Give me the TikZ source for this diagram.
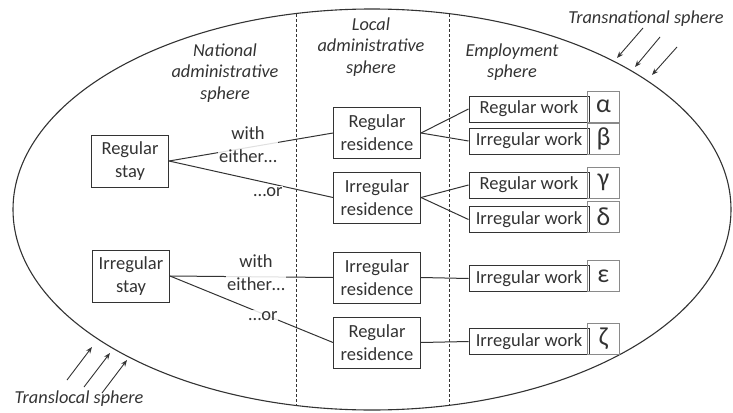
\documentclass[tikz,border=0pt]{standalone}
\usepackage{fontspec}
\setmainfont{Carlito}
\usetikzlibrary{arrows.meta}
\definecolor{ink}{HTML}{333333}
\definecolor{lightbox}{HTML}{8A8A8A}
\begin{document}
\begin{tikzpicture}[x=1pt,y=-1pt,
  every node/.style={font=\fontsize{18.5}{23}\selectfont, text=ink},
  box/.style={draw=ink, line width=1pt, align=center, inner sep=0pt},
  staybox/.style={box, minimum width=77pt, minimum height=52pt},
  resbox/.style={box, minimum width=87pt, minimum height=51pt},
  workbox/.style={box, minimum width=120pt, minimum height=26pt},
  greekbox/.style={draw=lightbox, line width=0.8pt, inner sep=0pt, minimum width=32pt, minimum height=31pt, font=\fontsize{26}{26}\selectfont, anchor=south west},
  sphere/.style={align=center, font=\fontsize{18.3}{21.5}\selectfont\itshape},
  conn/.style={draw=ink, line width=1pt},
  lab/.style={align=center, fill=white, fill opacity=0.85, text opacity=1, inner sep=1pt},
  infl/.style={draw=ink, line width=0.9pt, -{Stealth[length=6.5pt,width=5pt]}}
]
\useasboundingbox (0,0) rectangle (733,412);
% ellipse and dashed dividers
\draw[ink, line width=1.1pt] (372,209.5) ellipse [x radius=359pt, y radius=200.5pt];
\coordinate (d1t) at (296,14);
\coordinate (d1b) at (296,405);
\coordinate (d2t) at (449,14);
\coordinate (d2b) at (449,405);
\draw[ink, line width=0.8pt, dash pattern=on 3pt off 2pt] (d1t) -- (d1b);
\draw[ink, line width=0.8pt, dash pattern=on 3pt off 2pt] (d2t) -- (d2b);
% sphere titles
\node[sphere] (nat) at (225,73) {National\\administrative\\sphere};
\node[sphere] (loc) at (371,47) {Local\\administrative\\sphere};
\node[sphere] (emp) at (512,62) {Employment\\sphere};
\node[sphere] (trn) at (646,19) {Transnational sphere};
\node[sphere] (trl) at (79,399) {Translocal sphere};
% external influence arrows
\coordinate (tn1s) at (643,28); \coordinate (tn1e) at (617,58);
\coordinate (tn2s) at (660,37); \coordinate (tn2e) at (635,67);
\coordinate (tn3s) at (677,47); \coordinate (tn3e) at (652,75);
\draw[infl] (tn1s) -- (tn1e);
\draw[infl] (tn2s) -- (tn2e);
\draw[infl] (tn3s) -- (tn3e);
\coordinate (tl1s) at (67,380); \coordinate (tl1e) at (92,347);
\coordinate (tl2s) at (84,387); \coordinate (tl2e) at (110,353);
\coordinate (tl3s) at (102,393); \coordinate (tl3e) at (127,360);
\draw[infl] (tl1s) -- (tl1e);
\draw[infl] (tl2s) -- (tl2e);
\draw[infl] (tl3s) -- (tl3e);
% stays
\node[staybox] (s1) at (130,161) {Regular\\stay};
\node[staybox] (s2) at (131,276) {Irregular\\stay};
% residences
\node[resbox] (r1) at (377,133) {Regular\\residence};
\node[resbox] (r2) at (377,197.5) {Irregular\\residence};
\node[resbox] (r3) at (377,277.5) {Irregular\\residence};
\node[resbox] (r4) at (377,342.5) {Regular\\residence};
% work
\node[workbox] (wa) at (529,109) {Regular work};
\node[workbox] (wb) at (529,141) {Irregular work};
\node[workbox] (wc) at (529,185) {Regular work};
\node[workbox] (wd) at (529,219.5) {Irregular work};
\node[workbox] (we) at (529,278.5) {Irregular work};
\node[workbox] (wf) at (529,341.5) {Irregular work};
\node[greekbox] (ga) at ([xshift=-2.5pt]wa.south east) {α};
\node[greekbox] (gb) at ([xshift=-2.5pt]wb.south east) {β};
\node[greekbox] (gc) at ([xshift=-2.5pt]wc.south east) {γ};
\node[greekbox] (gd) at ([xshift=-2.5pt]wd.south east) {δ};
\node[greekbox] (ge) at ([xshift=-2.5pt]we.south east) {ε};
\node[greekbox] (gf) at ([xshift=-2.5pt]wf.south east) {ζ};
% connectors
\draw[conn] (s1.east) -- (r1.west);
\draw[conn] (s1.east) -- (r2.west);
\draw[conn] (s2.east) -- (r3.west);
\draw[conn] (s2.east) -- (r4.west);
\draw[conn] (r1.east) -- (wa.west);
\draw[conn] (r1.east) -- (wb.west);
\draw[conn] (r2.east) -- (wc.west);
\draw[conn] (r2.east) -- (wd.west);
\draw[conn] (r3.east) -- (we.west);
\draw[conn] (r4.east) -- (wf.west);
% connector labels
\node[lab] (l1) at (248,145) {with\\either…};
\node[lab] (l2) at (268,192) {…or};
\node[lab] (l3) at (256,273) {with\\either…};
\node[lab] (l4) at (263,316) {…or};
\end{tikzpicture}
\end{document}
